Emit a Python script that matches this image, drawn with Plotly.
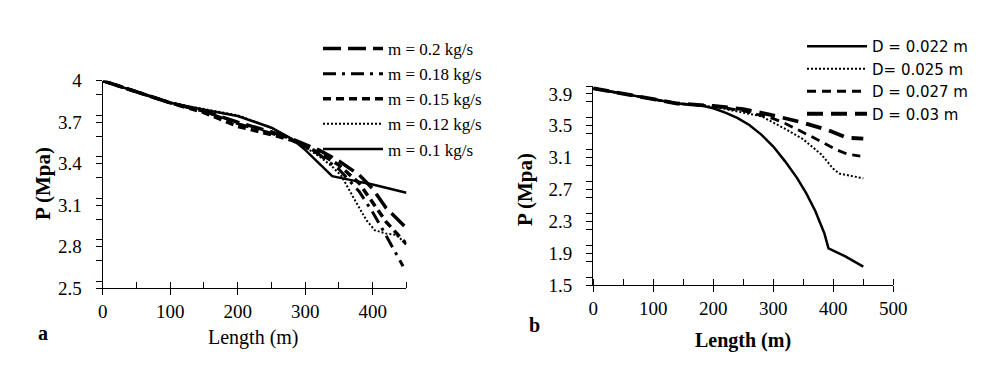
import plotly.graph_objects as go

# the page body keeps an 8px margin, so the figure is drawn 8px in from the window edge
OFF = 8
W, H = 1006 - OFF, 374 - OFF

# panel a: pressure along pipe for different mass flow rates
m_labels = ["m = 0.2 kg/s", "m = 0.18 kg/s", "m = 0.15 kg/s", "m = 0.12 kg/s", "m = 0.1 kg/s"]
m02_x = [0, 50, 100, 150, 200, 250, 280, 320, 350, 380, 400, 420, 447]
m02_y = [4.0, 3.92, 3.84, 3.78, 3.70, 3.63, 3.58, 3.50, 3.42, 3.32, 3.22, 3.08, 2.95]
m018_x = [0, 50, 100, 150, 200, 250, 280, 320, 350, 380, 400, 420, 445]
m018_y = [4.0, 3.92, 3.84, 3.78, 3.69, 3.62, 3.575, 3.47, 3.36, 3.20, 3.05, 2.88, 2.66]
m015_x = [0, 50, 100, 150, 200, 250, 280, 320, 350, 380, 400, 420, 450]
m015_y = [4.0, 3.92, 3.84, 3.77, 3.67, 3.61, 3.57, 3.48, 3.39, 3.26, 3.12, 2.98, 2.82]
m012_x = [0, 50, 100, 150, 200, 250, 280, 300, 322, 340, 354, 371, 391, 403, 420, 435, 450]
m012_y = [4.0, 3.92, 3.84, 3.795, 3.75, 3.66, 3.58, 3.52, 3.45, 3.38, 3.31, 3.16, 2.99, 2.92, 2.895, 2.885, 2.82]
m01_x = [0, 50, 100, 150, 200, 250, 280, 300, 340, 370, 400, 450]
m01_y = [4.0, 3.92, 3.84, 3.79, 3.745, 3.66, 3.58, 3.50, 3.31, 3.28, 3.25, 3.19]

# panel b: pressure along pipe for different diameters
d_labels = ["D = 0.022 m", "D= 0.025 m", "D = 0.027 m", "D = 0.03 m"]
d022_x = [0, 50, 100, 140, 180, 200, 220, 240, 260, 280, 300, 320, 340, 355, 370, 385, 392, 420, 450]
d022_y = [3.97, 3.90, 3.83, 3.78, 3.755, 3.72, 3.665, 3.60, 3.51, 3.39, 3.24, 3.05, 2.84, 2.65, 2.43, 2.15, 1.96, 1.86, 1.73]
d025_x = [0, 50, 100, 140, 200, 250, 280, 320, 350, 380, 400, 410, 450]
d025_y = [3.97, 3.90, 3.83, 3.78, 3.74, 3.67, 3.62, 3.46, 3.33, 3.14, 2.96, 2.90, 2.84]
d027_x = [0, 50, 100, 140, 200, 250, 300, 320, 370, 405, 425, 445]
d027_y = [3.97, 3.90, 3.83, 3.78, 3.745, 3.69, 3.59, 3.53, 3.34, 3.20, 3.14, 3.12]
d03_x = [0, 50, 100, 140, 200, 250, 294, 344, 390, 422, 450]
d03_y = [3.97, 3.90, 3.83, 3.78, 3.75, 3.71, 3.64, 3.55, 3.45, 3.35, 3.34]


def px(x):
    return (x - OFF) / W


def py(y):
    return 1 - (y - OFF) / H


serif = "Liberation Serif, Times New Roman, serif"
sans = "DejaVu Sans, Arial, sans-serif"

fig = go.Figure()

m_series = [(m02_x, m02_y), (m018_x, m018_y), (m015_x, m015_y), (m012_x, m012_y), (m01_x, m01_y)]
m_styles = [("18px,7px", 3.5), ("13px,6px,3px,6px", 3), ("8px,5px", 3.5), ("2px,2px", 2), ("solid", 2.5)]
for i, ((xs, ys), label, (dash, w)) in enumerate(zip(m_series, m_labels, m_styles)):
    fig.add_trace(go.Scatter(x=xs, y=ys, mode="lines", name=label, legend="legend",
                             legendgroup=f"a{i}", line=dict(color="black", width=w, dash=dash),
                             xaxis="x", yaxis="y"))

d_series = [(d022_x, d022_y), (d025_x, d025_y), (d027_x, d027_y), (d03_x, d03_y)]
d_styles = [("solid", 2.5), ("2px,2px", 2), ("9px,6px", 2.8), ("16px,8px", 3.8)]
for i, ((xs, ys), label, (dash, w)) in enumerate(zip(d_series, d_labels, d_styles)):
    fig.add_trace(go.Scatter(x=xs, y=ys, mode="lines", name=label, legend="legend2",
                             legendgroup=f"b{i}", line=dict(color="black", width=w, dash=dash),
                             xaxis="x2", yaxis="y2"))

axis_common = dict(showline=True, linecolor="black", linewidth=1.3, showgrid=False, zeroline=False,
                   ticks="outside", ticklen=6, tickcolor="black", tickwidth=1.3, automargin=False,
                   tickfont=dict(family=serif, size=19, color="black"))
minor_tick = dict(ticklen=6, tickcolor="black", tickwidth=1.3)

fig.update_layout(
    template="none",
    width=W, height=H,
    margin=dict(l=0, r=0, t=0, b=0, autoexpand=False),
    paper_bgcolor="white", plot_bgcolor="white",
    xaxis=dict(domain=[px(102.7), px(406.4)], range=[0, 450], tick0=0, dtick=100,
               minor=dict(dtick=50, ticks="inside", **minor_tick), anchor="y", **axis_common),
    yaxis=dict(domain=[py(288.3), py(80.7)], range=[2.5, 4.0], tick0=2.5, dtick=0.3,
               minor=dict(dtick=0.15, ticks="outside", **minor_tick),
               anchor="x", ticklabelstandoff=10, **axis_common),
    xaxis2=dict(domain=[px(593.3), px(893.3)], range=[0, 500], tick0=0, dtick=100,
                minor=dict(dtick=50, ticks="inside", **minor_tick), anchor="y2", **axis_common),
    yaxis2=dict(domain=[py(285), py(86)], range=[1.5, 4.0], tick0=1.5, dtick=0.4,
                minor=dict(dtick=0.2, ticks="outside", **minor_tick),
                anchor="x2", ticklabelstandoff=10, **axis_common),
    legend=dict(x=px(318), y=py(31), xanchor="left", yanchor="top", bgcolor="rgba(0,0,0,0)",
                font=dict(family=serif, size=17, color="black"), tracegroupgap=0, itemwidth=60),
    legend2=dict(x=px(802), y=py(30), xanchor="left", yanchor="top", bgcolor="rgba(0,0,0,0)",
                 font=dict(family=sans, size=15, color="black"), tracegroupgap=0, itemwidth=60),
    showlegend=True,
)

annotations = [
    dict(text="Length (m)", x=px(253), y=py(337), font=dict(family=serif, size=20)),
    dict(text="<b>Length (m)</b>", x=px(743), y=py(340), font=dict(family=serif, size=20)),
    dict(text="<b>P (Mpa)</b>", x=px(43), y=py(184), textangle=-90, font=dict(family=serif, size=21)),
    dict(text="<b>P (Mpa)</b>", x=px(525), y=py(190), textangle=-90, font=dict(family=serif, size=21)),
    dict(text="<b>a</b>", x=px(43), y=py(333), font=dict(family=serif, size=20)),
    dict(text="<b>b</b>", x=px(534), y=py(325), font=dict(family=serif, size=20)),
]
for a in annotations:
    a.update(xref="paper", yref="paper", showarrow=False, xanchor="center", yanchor="middle")
    a["font"]["color"] = "black"
    fig.add_annotation(**a)

fig.write_html("out.html")
